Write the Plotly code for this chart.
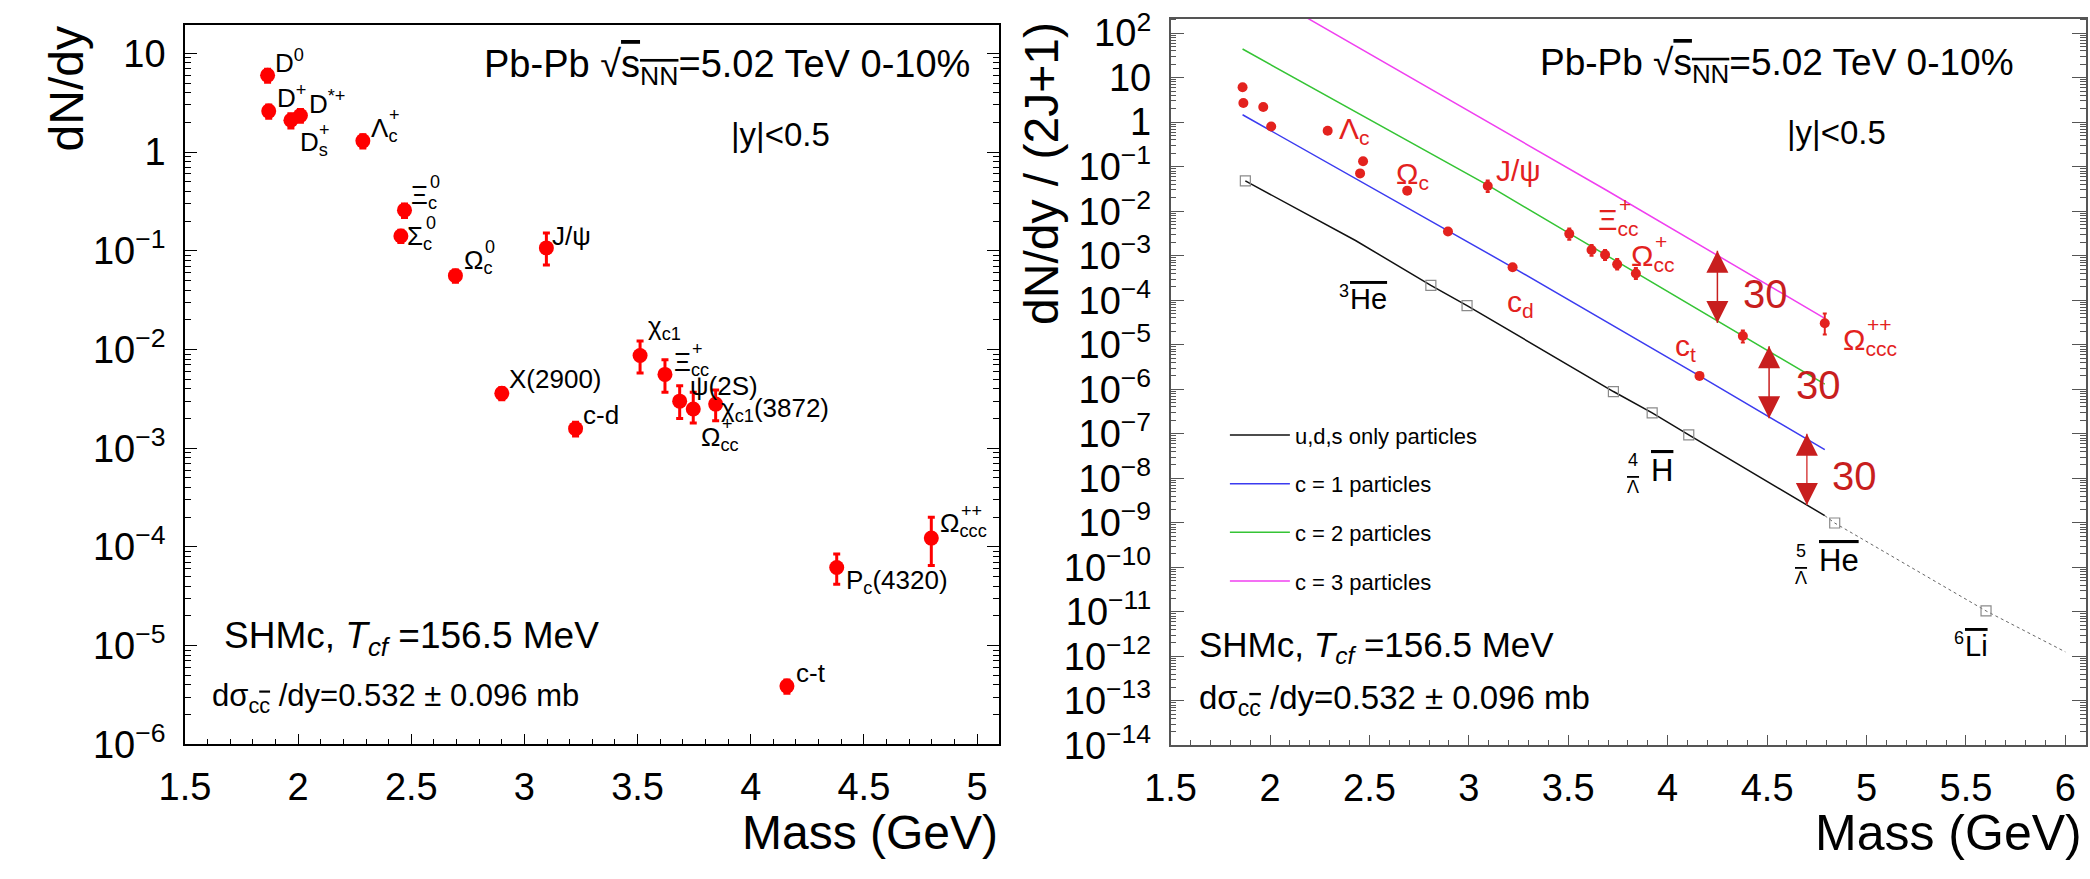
import numpy as np
import plotly.graph_objects as go

W, H = 2090, 879
FONT = "Liberation Sans, Arial, sans-serif"
RED = "#ff0000"
LRED = "#e3221e"
ARED = "#c81e1e"

# ---------------- Left panel: dN/dy ----------------
left_mass = [1.865, 1.870, 1.968, 2.010, 2.286, 2.454, 2.470, 2.695, 2.900, 3.097,
             3.226, 3.511, 3.621, 3.686, 3.746, 3.845, 4.160, 4.380, 4.798]
left_dndy = [6.0, 2.6, 2.1, 2.35, 1.30, 0.141, 0.258, 0.056, 3.6e-3, 0.107,
             1.58e-3, 8.7e-3, 5.6e-3, 3.0e-3, 2.5e-3, 2.8e-3, 3.9e-6, 6.2e-5, 1.23e-4]
left_err_up = [0.9, 0.4, 0.35, 0.35, 0.2, 0.02, 0.04, 0.008, 0.5e-3, 0.044,
               0.25e-3, 3.5e-3, 2.3e-3, 1.3e-3, 1.2e-3, 1.1e-3, 0.6e-6, 2.3e-5, 0.77e-4]
left_err_dn = [0.9, 0.4, 0.35, 0.35, 0.2, 0.02, 0.04, 0.008, 0.5e-3, 0.035,
               0.25e-3, 2.9e-3, 1.9e-3, 1.0e-3, 0.7e-3, 0.9e-3, 0.6e-6, 2.0e-5, 0.58e-4]

# labels: base text, subscript, superscript
left_label_base = ["D", "D", "D", "D", "Λ", "Ξ", "Σ", "Ω", "J/ψ", "X(2900)", "c-d", "χ",
                   "Ξ", "ψ(2S)", "χ", "Ω", "Ω", "P", "c-t"]
left_label_sub = ["", "", "", "s", "c", "c", "c", "c", "", "", "", "c1",
                  "cc", "", "c1", "cc", "ccc", "c", ""]
left_label_sup = ["0", "+", "*+", "+", "+", "0", "0", "0", "", "", "", "",
                  "+", "", "", "+", "++", "", ""]
left_label_tail = ["", "", "", "", "", "", "", "", "", "", "", "",
                   "", "", "(3872)", "", "", "(4320)", ""]
left_label_x = [1.888, 1.897, 2.037, 1.998, 2.312, 2.491, 2.473, 2.722, 3.115, 2.923,
                3.25, 3.535, 3.652, 3.722, 3.861, 3.770, 4.826, 4.411, 4.19]
left_label_y = [8.2, 3.64, 3.18, 1.21, 1.70, 0.353, 0.137, 0.0785, 0.14, 5.08e-3,
                2.16e-3, 0.0167, 7.3e-3, 4.3e-3, 2.48e-3, 1.26e-3, 1.67e-4, 4.45e-5, 5.3e-6]

# ---------------- Right panel: dN/dy/(2J+1) ----------------
right_mass = [1.862, 1.866, 1.966, 2.006, 2.290, 2.468, 2.453, 2.690, 3.095, 2.895,
              3.220, 3.505, 3.617, 3.685, 3.746, 3.840, 4.160, 4.378, 4.790]
right_val = [6.1, 2.7, 2.2, 0.80, 0.645, 0.133, 0.0708, 0.029, 0.037, 3.5e-3,
             5.5e-4, 3.1e-3, 1.35e-3, 1.05e-3, 6.4e-4, 4.0e-4, 2.0e-6, 1.58e-5, 3.05e-5]
right_err_up = [0.3, 0.15, 0.12, 0.05, 0.04, 0.008, 0.004, 0.002, 0.012, 0.2e-3,
                0.04e-3, 1.0e-3, 0.4e-3, 0.3e-3, 0.2e-3, 0.13e-3, 0.1e-6, 0.5e-5, 2.0e-5]
right_err_dn = [0.3, 0.15, 0.12, 0.05, 0.04, 0.008, 0.004, 0.002, 0.010, 0.2e-3,
                0.04e-3, 0.8e-3, 0.35e-3, 0.25e-3, 0.15e-3, 0.1e-3, 0.1e-6, 0.45e-5, 1.35e-5]

nuclei_mass = [1.876, 2.809, 2.991, 3.727, 3.922, 4.106, 4.840, 5.601]
nuclei_val = [0.048, 2.16e-4, 7.6e-5, 8.9e-7, 2.96e-7, 9.5e-8, 9.9e-10, 1.05e-11]

uds_mass = [1.876, 2.43, 2.809, 2.991, 3.727, 3.922, 4.106, 4.79]
uds_val = [0.048, 2.2e-3, 2.16e-4, 7.6e-5, 8.9e-7, 2.96e-7, 9.5e-8, 1.45e-9]
uds_ext_mass = [4.79, 4.840, 5.601, 6.0]
uds_ext_val = [1.45e-9, 9.9e-10, 1.05e-11, 1.26e-12]
c1_mass = [1.862, 2.895, 3.220, 4.160, 4.79]
c1_val = [1.47, 3.57e-3, 5.5e-4, 2.0e-6, 4.4e-8]
c2_mass = [1.862, 3.095, 3.505, 4.79]
c2_val = [44.0, 0.0384, 3.18e-3, 1.3e-6]
c3_mass = [1.862, 2.895, 3.69, 4.79]
c3_val = [1.5e3, 3.4, 0.030, 3.9e-5]

arrow_mass = [4.25, 4.51, 4.70]
arrow_top = [1.29e-3, 9.3e-6, 1.0e-7]
arrow_bot = [3.09e-5, 2.24e-7, 2.5e-9]
arrow_label = ["30", "30", "30"]
arrow_label_x = [4.371, 4.634, 4.818]
arrow_label_y = [1.38e-4, 1.23e-6, 1.12e-8]

red_label_base = ["Λ", "Ω", "J/ψ", "c", "Ξ", "Ω", "c", "Ω"]
red_label_sub = ["c", "c", "", "d", "cc", "cc", "t", "ccc"]
red_label_sup = ["", "", "", "", "+", "+", "", "++"]
red_label_x = [2.339, 2.622, 3.129, 3.184, 3.641, 3.805, 4.028, 4.873]
red_label_y = [0.655, 0.063, 0.081, 8.3e-5, 6.0e-3, 9.1e-4, 8.9e-6, 1.2e-5]

# light (anti)nuclei labels: mass number, hyperon prescript, name
nuc_label_A = ["3", "4", "5", "6"]
nuc_label_hyp = ["", "Λ", "Λ", ""]
nuc_label_name = ["He", "H", "He", "Li"]
nuc_label_x = [2.339, 3.790, 4.634, 5.429]
nuc_label_y = [1.08e-4, 1.53e-8, 1.42e-10, 1.70e-12]

OVL = '<span style="text-decoration:overline">%s</span>'

left_ytick_vals = [10.0 ** k for k in range(-6, 2)]
left_ytick_text = ["10<sup>\u2212%d</sup>" % (-k) if k < 0 else ("1" if k == 0 else "10") for k in range(-6, 2)]
right_ytick_vals = [10.0 ** k for k in range(-14, 3)]
right_ytick_text = ["10<sup>\u2212%d</sup>" % (-k) if k < 0 else ("1" if k == 0 else ("10" if k == 1 else "10<sup>%d</sup>" % k)) for k in range(-14, 3)]
left_xtick_vals = [1.5, 2, 2.5, 3, 3.5, 4, 4.5, 5]
left_xtick_text = ["1.5", "2", "2.5", "3", "3.5", "4", "4.5", "5"]
right_xtick_vals = [1.5, 2, 2.5, 3, 3.5, 4, 4.5, 5, 5.5, 6]
right_xtick_text = ["1.5", "2", "2.5", "3", "3.5", "4", "4.5", "5", "5.5", "6"]

LY_RANGE = [-6, 1.292]
LX_RANGE = [1.5, 5.096]
RY_RANGE = [-14, 2.324]
RX_RANGE = [1.5, 6.104]

# approximate glyph widths (em) for stacking sub/superscripts
GLYPH_EM = {"Ω": 0.77, "Ξ": 0.67, "Σ": 0.67, "Λ": 0.67, "D": 0.72, "χ": 0.55, "c": 0.5, "P": 0.67}


def PX(x):
    return x / W


def PY(y):
    return 1 - y / H


def log_minor(lo, hi):
    vals = []
    for d in range(int(np.floor(lo)) - 1, int(np.ceil(hi)) + 1):
        for k in range(2, 10):
            v = k * 10.0 ** d
            if 10 ** lo < v < 10 ** hi:
                vals.append(v)
    return vals


def lin_minor(lo, hi):
    vals = []
    for i in range(int(round(lo * 10)) + 1, int(round(hi * 10)) + 1):
        v = i / 10
        if abs(v * 2 - round(v * 2)) > 1e-6 and lo < v < hi:
            vals.append(v)
    return vals


fig = go.Figure()

# ---------- left panel points ----------
fig.add_trace(go.Scatter(
    x=left_mass, y=left_dndy, mode="markers", xaxis="x", yaxis="y", showlegend=False,
    marker=dict(color=RED, size=15, line=dict(width=0)),
    error_y=dict(type="data", array=left_err_up, arrayminus=left_err_dn, color=RED,
                 thickness=3, width=3.5)))

# ---------- right panel model lines ----------
fig.add_trace(go.Scatter(x=uds_mass, y=uds_val, mode="lines", xaxis="x2", yaxis="y2",
                         name="u,d,s only particles", legendgroup="g0",
                         line=dict(color="#111111", width=1.5)))
fig.add_trace(go.Scatter(x=c1_mass, y=c1_val, mode="lines", xaxis="x2", yaxis="y2",
                         name="c = 1 particles", legendgroup="g1",
                         line=dict(color="#3b3bf0", width=1.5)))
fig.add_trace(go.Scatter(x=c2_mass, y=c2_val, mode="lines", xaxis="x2", yaxis="y2",
                         name="c = 2 particles", legendgroup="g2",
                         line=dict(color="#35c435", width=1.5)))
fig.add_trace(go.Scatter(x=c3_mass, y=c3_val, mode="lines", xaxis="x2", yaxis="y2",
                         name="c = 3 particles", legendgroup="g3",
                         line=dict(color="#f040f0", width=1.5)))
fig.add_trace(go.Scatter(x=uds_ext_mass, y=uds_ext_val, mode="lines", xaxis="x2", yaxis="y2",
                         showlegend=False, line=dict(color="#666666", width=1, dash="dot")))

# nuclei squares
fig.add_trace(go.Scatter(x=nuclei_mass, y=nuclei_val, mode="markers", xaxis="x2", yaxis="y2",
                         showlegend=False,
                         marker=dict(symbol="square-open", size=10, color="#8a8a8a",
                                     line=dict(width=1.2))))

# right panel red points
fig.add_trace(go.Scatter(
    x=right_mass, y=right_val, mode="markers", xaxis="x2", yaxis="y2", showlegend=False,
    marker=dict(color=LRED, size=10),
    error_y=dict(type="data", array=right_err_up, arrayminus=right_err_dn, color=LRED,
                 thickness=2, width=2)))

# arrows
for i in range(len(arrow_mass)):
    fig.add_trace(go.Scatter(x=[arrow_mass[i], arrow_mass[i]], y=[arrow_top[i], arrow_bot[i]],
                             mode="lines", xaxis="x2", yaxis="y2", showlegend=False,
                             line=dict(color="#d84545" if i == 2 else ARED, width=1.5)))
fig.add_trace(go.Scatter(x=arrow_mass, y=arrow_top, mode="markers", xaxis="x2", yaxis="y2",
                         showlegend=False,
                         marker=dict(symbol="arrow-up", size=22, color=ARED, line=dict(width=0))))
fig.add_trace(go.Scatter(x=arrow_mass, y=arrow_bot, mode="markers", xaxis="x2", yaxis="y2",
                         showlegend=False,
                         marker=dict(symbol="arrow-down", size=22, color=ARED, line=dict(width=0))))

annotations = []


def ann(text, x, y, xref, yref, size, color, xshift=0, yshift=0):
    annotations.append(dict(text=text, x=x, y=np.log10(y), xref=xref, yref=yref,
                            xanchor="left", yanchor="middle", showarrow=False,
                            xshift=xshift, yshift=yshift,
                            font=dict(family=FONT, size=size, color=color)))


def particle_label(base, sub, sup, tail, x, y, xref, yref, size, color):
    main = base + ("<sub>%s</sub>" % sub if sub else "") + tail
    if sup and not sub:
        main = base + "<sup>%s</sup>" % sup + tail
    ann(main, x, y, xref, yref, size, color)
    if sup and sub:
        w = GLYPH_EM.get(base, 0.6) * size
        ann(sup, x, y, xref, yref, round(size * 0.7), color, xshift=w + 1, yshift=size * 0.55)


for b, s, p, t, x, y in zip(left_label_base, left_label_sub, left_label_sup, left_label_tail,
                            left_label_x, left_label_y):
    particle_label(b, s, p, t, x, y, "x", "y", 26, "black")
for b, s, p, x, y in zip(red_label_base, red_label_sub, red_label_sup, red_label_x, red_label_y):
    particle_label(b, s, p, "", x, y, "x2", "y2", 30, LRED)
for A, hyp, name, x, y in zip(nuc_label_A, nuc_label_hyp, nuc_label_name, nuc_label_x, nuc_label_y):
    if hyp:
        ann(A, x, y, "x2", "y2", 18, "black", xshift=0, yshift=10)
        ann(OVL % hyp, x, y, "x2", "y2", 18, "black", xshift=-1, yshift=-17)
        ann(OVL % name, x, y, "x2", "y2", 31, "black", xshift=23)
    else:
        ann(A, x, y, "x2", "y2", 18, "black", xshift=0, yshift=8)
        ann(OVL % name, x, y, "x2", "y2", 29, "black", xshift=11)
for t, x, y in zip(arrow_label, arrow_label_x, arrow_label_y):
    ann(t, x, y, "x2", "y2", 40, ARED)

SQ = '√<span style="text-decoration:overline">s<sub>NN</sub></span>'
header = "Pb-Pb " + SQ + "=5.02 TeV 0-10%"
shm = "SHMc, <i>T</i><sub><i>cf</i></sub> =156.5 MeV"
sig = "dσ<sub>c" + OVL % "c" + "</sub> /dy=0.532 ± 0.096 mb"


def ptext(t, x, y, size, xanchor="left", angle=0):
    annotations.append(dict(text=t, x=PX(x), y=PY(y), xref="paper", yref="paper",
                            xanchor=xanchor, yanchor="middle", showarrow=False, textangle=angle,
                            font=dict(family=FONT, size=size, color="black")))


ptext(header, 462, 57, 38)
ptext("|y|<0.5", 712, 127, 33)
ptext(shm, 198, 650, 37)
ptext(sig, 186, 713, 31)
ptext(header, 1531, 55, 37)
ptext("|y|<0.5", 1781, 125, 33)
ptext(shm, 1186, 660, 35)
ptext(sig, 1186, 715, 33)
# axis titles
ptext("dN/dy", 42, 80, 48, xanchor="center", angle=-90)
ptext("Mass (GeV)", 986, 853, 48, xanchor="right")
ptext("dN/dy / (2J+1)", 1028, 168, 48, xanchor="center", angle=-90)
ptext("Mass (GeV)", 2084, 853, 50, xanchor="right")

tickfont = dict(family=FONT, size=38, color="black")


def axis_common(color, width):
    return dict(showline=True, linecolor=color, linewidth=width, mirror=True, showgrid=False,
                zeroline=False, ticks="inside", tickcolor=color, tickwidth=1.2, tickfont=tickfont,
                ticklabeloverflow="allow")


layout = dict(
    width=W, height=H, margin=dict(l=0, r=0, t=0, b=0),
    paper_bgcolor="white", plot_bgcolor="white",
    font=dict(family=FONT, color="black"),
    annotations=annotations,
    showlegend=True,
    legend=dict(x=PX(1214), y=PY(418), xanchor="left", yanchor="top",
                font=dict(family=FONT, size=22, color="black"), bgcolor="rgba(0,0,0,0)",
                tracegroupgap=17, itemwidth=60),
    xaxis=dict(domain=[PX(161), PX(985)], range=LX_RANGE, anchor="y",
               tickvals=left_xtick_vals, ticktext=left_xtick_text, ticklen=11,
               ticklabelstandoff=8,
               minor=dict(tickvals=lin_minor(*LX_RANGE), ticks="inside", ticklen=6,
                          tickcolor="black", tickwidth=1.2),
               **axis_common("black", 1.6)),
    yaxis=dict(domain=[PY(761), PY(13)], type="log", range=LY_RANGE, anchor="x",
               tickvals=left_ytick_vals, ticktext=left_ytick_text, ticklen=12,
               ticklabelstandoff=10,
               minor=dict(tickvals=log_minor(*LY_RANGE), ticks="inside", ticklen=6,
                          tickcolor="black", tickwidth=1.2),
               **{**axis_common("black", 1.6), "mirror": "ticks"}),
    xaxis2=dict(domain=[PX(1159), PX(2086)], range=RX_RANGE, anchor="y2",
                tickvals=right_xtick_vals, ticktext=right_xtick_text, ticklen=11,
                ticklabelstandoff=8,
                minor=dict(tickvals=lin_minor(*RX_RANGE), ticks="inside", ticklen=6,
                           tickcolor="#555555", tickwidth=1.2),
                **axis_common("#555555", 1.6)),
    yaxis2=dict(domain=[PY(762), PY(7)], type="log", range=RY_RANGE, anchor="x2",
                tickvals=right_ytick_vals, ticktext=right_ytick_text, ticklen=14,
                ticklabelstandoff=10,
                minor=dict(tickvals=log_minor(*RY_RANGE), ticks="inside", ticklen=6,
                           tickcolor="#555555", tickwidth=1),
                **{**axis_common("#555555", 1.6), "mirror": "ticks"}),
)
fig.update_layout(**layout)
fig.write_html("out.html")
